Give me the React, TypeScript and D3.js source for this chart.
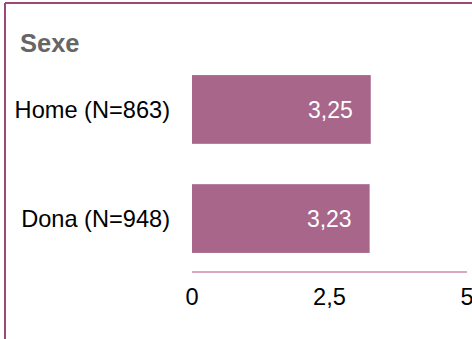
import React from "react";
import * as d3 from "d3";

const categories = ["Home (N=863)", "Dona (N=948)"];
const values = [3.25, 3.23];
const tickValues = [0, 2.5, 5];
const title = "Sexe";

export default function App() {
  const W = 472, H = 339;
  const x = d3.scaleLinear().domain([0, 5]).range([192, 467]);
  const y = d3.scaleBand().domain(categories).range([56, 272]).paddingInner(0.37).paddingOuter(0.175);
  const fmt = (v: number) => d3.format(".2f")(v).replace(".", ",");
  const fmtTick = (v: number) => String(v).replace(".", ",");
  const font = "Liberation Sans, Arial, sans-serif";
  const fs = 23.6;
  return (
    <svg width={W} height={H} style={{ position: "absolute", left: 0, top: 0 }} fontFamily={font}>
      <rect x={0} y={0} width={W} height={H} fill="#fff" />
      <line x1={5} y1={3} x2={W} y2={3} stroke="#9b4a78" strokeWidth={2} />
      <line x1={5} y1={3} x2={5} y2={H} stroke="#9b4a78" strokeWidth={2} />
      <text x={20} y={52} fontSize={25.5} fontWeight="bold" fill="#666">{title}</text>
      {categories.map((c, i) => {
        const by = y(c)!;
        const bh = y.bandwidth();
        return (
          <g key={c}>
            <rect x={x(0)} y={by} width={x(values[i]) - x(0)} height={bh} fill="#a8668a" />
            <text x={x(values[i]) - 18} y={by + bh / 2} dy="0.35em" textAnchor="end" fontSize={23} fill="#fff">{fmt(values[i])}</text>
            <text x={170} y={by + bh / 2} dy="0.35em" textAnchor="end" fontSize={fs} fill="#000">{c}</text>
          </g>
        );
      })}
      <line x1={x(0)} x2={x(5)} y1={272} y2={272} stroke="#d8a8c4" strokeWidth={2} />
      {tickValues.map(t => (
        <text key={t} x={x(t)} y={305} textAnchor="middle" fontSize={fs} fill="#000">{fmtTick(t)}</text>
      ))}
    </svg>
  );
}
